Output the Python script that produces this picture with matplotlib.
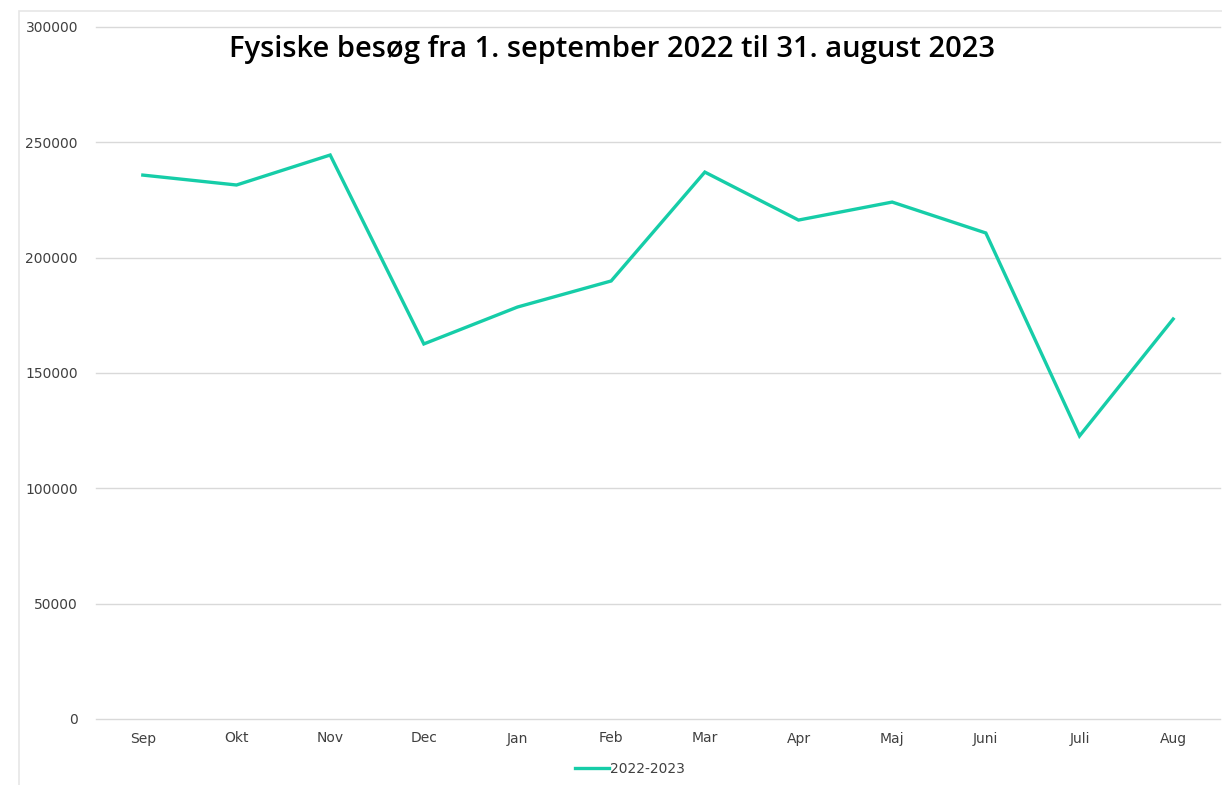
import matplotlib.pyplot as plt
from matplotlib.patches import Rectangle

# monthly physical visits
months = ['Sep', 'Okt', 'Nov', 'Dec', 'Jan', 'Feb', 'Mar', 'Apr', 'Maj', 'Juni', 'Juli', 'Aug']
visits = [235800, 231500, 244500, 162600, 178600, 189900, 237100, 216300, 224100, 210700, 122700, 173400]
series_name = '2022-2023'
y_ticks = [0, 50000, 100000, 150000, 200000, 250000, 300000]

fig = plt.figure(figsize=(12.22, 7.85), dpi=100)
ax = fig.add_axes([96/1222, 1 - 719/785, (1220 - 96)/1222, (719 - 27)/785])

# faint outer frame of the chart area
fig.patches.append(Rectangle((19/1222, -0.1), 1.2, 1 - 11/785 + 0.1,
                             transform=fig.transFigure, fill=False,
                             edgecolor='#e6e6e6', linewidth=1.2))

x = list(range(len(months)))
ax.plot(x, visits, color='#16cda8', linewidth=2.4, label=series_name,
        solid_joinstyle='miter')

ax.set_xlim(-0.5, len(months) - 0.5)
ax.set_ylim(0, 300000)
ax.set_yticks(y_ticks)
ax.set_yticklabels([str(v) for v in y_ticks])
ax.set_xticks(x)
ax.set_xticklabels(months)
ax.grid(axis='y', color='#d9d9d9', linewidth=1)
for gl in ax.get_ygridlines():
    gl.set_clip_on(False)
ax.set_axisbelow(True)
for s in ax.spines.values():
    s.set_visible(False)
ax.tick_params(length=0, labelsize=10, colors='#404040')
ax.tick_params(axis='y', pad=13)
ax.tick_params(axis='x', pad=9)

fig.text(612/1222, 1 - 50/785, 'Fysiske besøg fra 1. september 2022 til 31. august 2023',
         ha='center', va='center', fontsize=21, family='Open Sans', weight='semibold',
         color='black')

fig.legend(loc='center', bbox_to_anchor=(630/1222, 1 - 769/785), frameon=False,
           fontsize=10, handlelength=2.4, handletextpad=0.1, labelcolor='#404040')

plt.savefig('out.png', dpi=100)
